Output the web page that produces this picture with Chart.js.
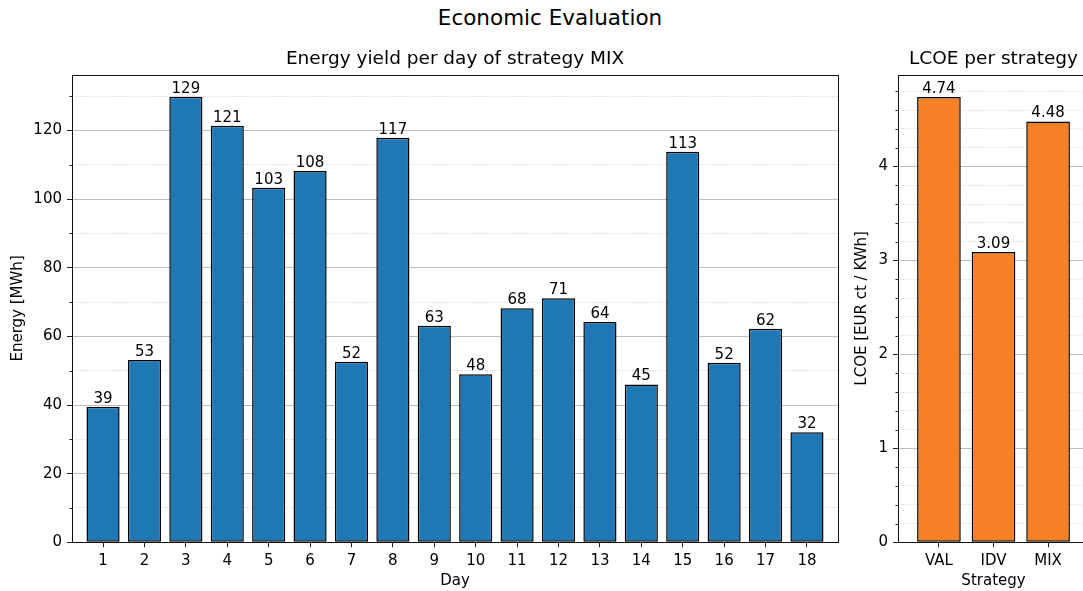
<!DOCTYPE html>
<html>
<head>
<meta charset="utf-8">
<script src="https://cdn.jsdelivr.net/npm/chart.js@4.4.1/dist/chart.umd.min.js"></script>
<style>
  html, body { margin: 0; padding: 0; background: #fff; overflow: hidden; }
  #fig { position: relative; width: 1100px; height: 591px; font-family: "DejaVu Sans", sans-serif; }
  #suptitle { position: absolute; left: 0; top: 7px; width: 1100px; text-align: center; font-size: 21.5px; line-height: 1; color: #000; }
  #energyChart { position: absolute; left: 0; top: 0; }
  #lcoeChart { position: absolute; left: 845px; top: 0; }
</style>
</head>
<body>
<div id="fig">
  <div id="suptitle">Economic Evaluation</div>
  <canvas id="energyChart" width="845" height="591"></canvas>
  <canvas id="lcoeChart" width="255" height="591"></canvas>
</div>
<script>
// energy yield per day, strategy MIX [MWh]
const days = [1, 2, 3, 4, 5, 6, 7, 8, 9, 10, 11, 12, 13, 14, 15, 16, 17, 18];
const energyValues = [39.5, 53.1, 129.8, 121.4, 103.3, 108.2, 52.6, 117.9, 63.1, 49.0, 68.2, 71.1, 64.2, 46.0, 113.8, 52.3, 62.2, 32.1];
const energyLabels = ['39', '53', '129', '121', '103', '108', '52', '117', '63', '48', '68', '71', '64', '45', '113', '52', '62', '32'];

// LCOE per strategy [EUR ct / KWh]
const strategies = ['VAL', 'IDV', 'MIX'];
const lcoeValues = [4.74, 3.09, 4.48];
const lcoeLabels = ['4.74', '3.09', '4.48'];

Chart.defaults.font.family = "'DejaVu Sans', sans-serif";
Chart.defaults.font.size = 15;
Chart.defaults.color = '#000';

const isMajor = (v, step) => Math.abs(v / step - Math.round(v / step)) < 1e-6;

// all four spines + short minor ticks on the y axis
const framePlugin = {
  id: 'frame',
  afterDraw(chart, args, opts) {
    const a = chart.chartArea;
    const ctx = chart.ctx;
    const l = Math.round(a.left) + 0.5, t = Math.round(a.top) + 0.5;
    const r = Math.round(a.right) + 0.5, b = Math.round(a.bottom) + 0.5;
    ctx.save();
    ctx.strokeStyle = '#111';
    ctx.lineWidth = 1;
    ctx.strokeRect(l, t, r - l, b - t);
    const y = chart.scales.y;
    ctx.strokeStyle = '#222';
    ctx.beginPath();
    y.ticks.forEach((tk) => {
      if (isMajor(tk.value, opts.major)) return;
      const py = Math.round(y.getPixelForValue(tk.value)) + 0.5;
      ctx.moveTo(l - 3, py);
      ctx.lineTo(l, py);
    });
    ctx.stroke();
    ctx.restore();
  }
};

// value text above each bar
const barLabelPlugin = {
  id: 'barLabels',
  afterDatasetsDraw(chart, args, opts) {
    const ctx = chart.ctx;
    const meta = chart.getDatasetMeta(0);
    ctx.save();
    ctx.font = "15px 'DejaVu Sans'";
    ctx.fillStyle = '#000';
    ctx.textAlign = 'center';
    ctx.textBaseline = 'alphabetic';
    meta.data.forEach((bar, i) => {
      ctx.fillText(opts.labels[i], bar.x, bar.y - 4);
    });
    ctx.restore();
  }
};

function yAxis(max, step, major, width, titleText, titlePad) {
  return {
    type: 'linear',
    min: 0,
    max: max,
    afterFit: (scale) => { scale.width = width; },
    ticks: {
      stepSize: step,
      maxTicksLimit: 1000,
      includeBounds: false,
      padding: 5,
      font: { lineHeight: 1 },
      callback: (v) => isMajor(v, major) ? String(Math.round(v)) : ''
    },
    grid: {
      color: (c) => isMajor(c.tick.value, major) ? '#bdbdbd' : '#d2d2d2',
      lineWidth: 1,
      tickColor: (c) => isMajor(c.tick.value, major) ? '#222' : 'rgba(0,0,0,0)',
      tickLength: 5
    },
    border: {
      display: false,
      dash: (c) => isMajor(c.tick.value, major) ? [] : [1, 1.5]
    },
    title: { display: true, text: titleText, padding: { top: titlePad, bottom: 0 } }
  };
}

function xAxis(min, max, labelFn, titleText) {
  return {
    type: 'linear',
    min: min,
    max: max,
    offset: false,
    afterFit: (scale) => { scale.height = 591 - 542.3; },
    ticks: {
      stepSize: 1,
      maxTicksLimit: 1000,
      includeBounds: false,
      autoSkip: false,
      maxRotation: 0,
      padding: 5,
      callback: labelFn
    },
    grid: { drawOnChartArea: false, offset: false, tickColor: '#222', tickLength: 5 },
    border: { display: false },
    title: { display: true, text: titleText, padding: { top: 0, bottom: 0.5 } }
  };
}

function titleOpts(text) {
  return {
    display: true,
    fullSize: false,
    text: text,
    color: '#000',
    font: { size: 18.5, weight: 'normal', lineHeight: 1.2 },
    padding: { top: 47.9, bottom: 4.4 }
  };
}

new Chart(document.getElementById('energyChart'), {
  type: 'bar',
  data: {
    datasets: [{
      data: days.map((d, i) => ({ x: d, y: energyValues[i] })),
      backgroundColor: '#1f77b4',
      borderColor: '#000',
      borderWidth: 1.5,
      borderSkipped: false,
      barPercentage: 0.8,
      categoryPercentage: 1
    }]
  },
  options: {
    responsive: false,
    animation: false,
    layout: { padding: { left: 0, right: 7, top: 0, bottom: 0 } },
    scales: {
      x: xAxis(0.25, 18.75, (v) => String(v), 'Day'),
      y: yAxis(136.3, 5, 20, 72, 'Energy [MWh]', 9)
    },
    plugins: {
      legend: { display: false },
      tooltip: { enabled: false },
      title: titleOpts('Energy yield per day of strategy MIX'),
      barLabels: { labels: energyLabels },
      frame: { major: 20 }
    }
  },
  plugins: [barLabelPlugin, framePlugin]
});

new Chart(document.getElementById('lcoeChart'), {
  type: 'bar',
  data: {
    datasets: [{
      data: strategies.map((s, i) => ({ x: i, y: lcoeValues[i] })),
      backgroundColor: '#f58025',
      borderColor: '#000',
      borderWidth: 1.5,
      borderSkipped: false,
      barPercentage: 0.8,
      categoryPercentage: 1
    }]
  },
  options: {
    responsive: false,
    animation: false,
    layout: { padding: { left: 0, right: 11, top: 0, bottom: 0 } },
    scales: {
      x: xAxis(-0.75, 2.75, (v) => strategies[v] || '', 'Strategy'),
      y: yAxis(4.98, 0.2, 1, 53, 'LCOE [EUR ct / KWh]', 8)
    },
    plugins: {
      legend: { display: false },
      tooltip: { enabled: false },
      title: titleOpts('LCOE per strategy'),
      barLabels: { labels: lcoeLabels },
      frame: { major: 1 }
    }
  },
  plugins: [barLabelPlugin, framePlugin]
});
</script>
</body>
</html>
